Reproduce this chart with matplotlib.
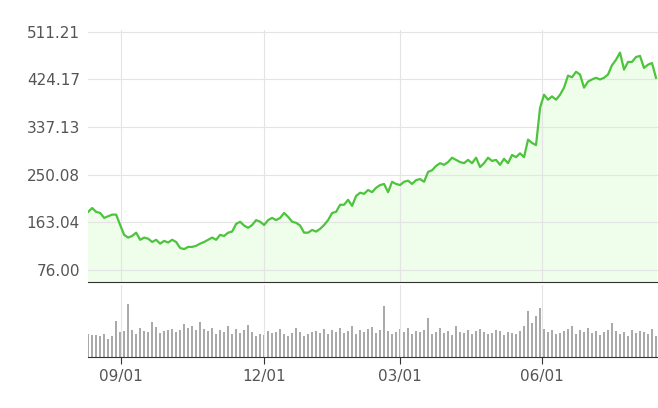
import matplotlib
matplotlib.use("Agg")
import matplotlib.pyplot as plt

price = [182,189,182,180,171,174,177,177,158,140,135,138,144,131,135,133,127,131,124,129,126,131,127,116,114,118,118,120,124,127,131,135,131,140,138,144,146,160,164,157,153,158,167,164,158,167,171,167,171,180,173,164,162,157,144,144,149,146,151,158,167,180,182,195,195,204,193,211,217,215,222,218,226,231,233,218,237,233,231,237,239,233,240,242,237,255,258,266,271,268,273,281,277,273,271,277,271,281,264,271,281,275,277,268,279,271,286,282,289,282,314,308,304,372,396,387,393,387,396,409,431,428,438,433,409,420,424,427,424,427,433,450,460,473,442,456,456,465,467,445,451,454,427,423]
price = price[:143]
volume = [22,21,21,20,22,18,20,35,24,25,52,26,22,28,25,24,34,29,23,25,26,27,24,26,32,28,30,26,34,27,25,28,22,26,24,30,22,27,23,26,31,24,20,22,21,25,23,24,27,22,20,23,28,24,20,22,24,25,23,27,22,26,24,28,23,25,30,22,26,24,27,29,23,26,50,25,22,24,27,24,28,22,25,24,26,38,22,24,28,23,25,21,30,24,23,26,22,25,27,24,22,23,26,25,21,24,23,22,25,30,45,33,40,48,27,24,26,22,23,25,27,30,22,26,24,28,23,25,21,24,26,33,25,22,24,20,26,23,25,24,22,27,20]
volume = volume[:143]
tick_pos = [8.25, 44, 78, 113.5]
tick_labels = ["09/01", "12/01", "03/01", "06/01"]
yticks = [76.00, 163.04, 250.08, 337.13, 424.17, 511.21]

x = list(range(len(price)))
fig = plt.figure(figsize=(6.58, 4.08), dpi=100)
ax = fig.add_axes([0.134, 0.309, 0.866, 0.617])
axv = fig.add_axes([0.134, 0.125, 0.866, 0.176])

ax.fill_between(x, price, 0, color="#effdeb")
ax.plot(x, price, color="#4cc43c", lw=1.6)
ax.set_xlim(0, 142.5)
ax.set_ylim(54, 514)
ax.set_yticks(yticks)
ax.set_yticklabels([f"{v:.2f}" for v in yticks], color="#555555", fontsize=11)
ax.set_xticks(tick_pos)
ax.set_xticklabels([])
ax.grid(True, color="#e4e4e4", lw=0.8)
ax.tick_params(length=0, pad=6)
for s in ["top", "right", "left"]:
    ax.spines[s].set_visible(False)
ax.spines["bottom"].set_color("#333333")

axv.bar(x, volume, width=0.5, color="#aaaaaa")
axv.set_xlim(0, 142.5)
axv.set_ylim(0, 70)
axv.set_yticks([])
axv.set_xticks(tick_pos)
axv.set_xticklabels(tick_labels, color="#555555", fontsize=11)
axv.tick_params(axis="x", length=5, color="#333333")
axv.grid(True, axis="x", color="#e4e4e4", lw=0.8)
for s in ["top", "right", "left"]:
    axv.spines[s].set_visible(False)
axv.spines["bottom"].set_color("#333333")
fig.savefig("out.png", dpi=100)
